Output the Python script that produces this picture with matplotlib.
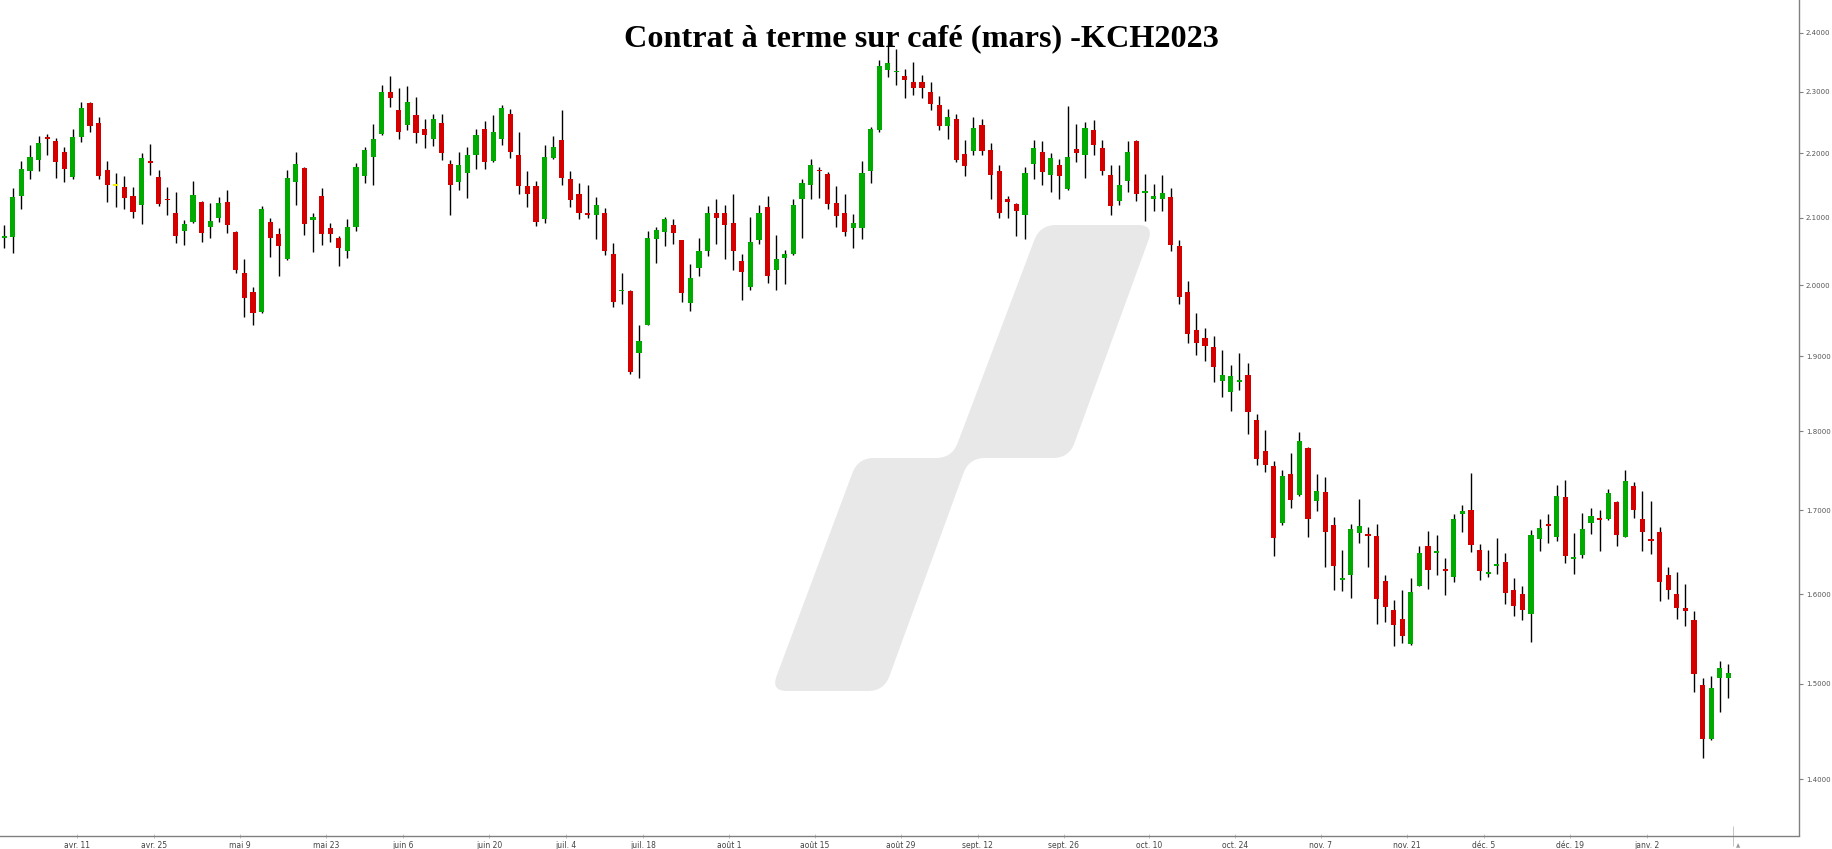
import numpy as np
import matplotlib
matplotlib.use("Agg")
import matplotlib.pyplot as plt
from matplotlib.path import Path
from matplotlib.patches import PathPatch
from matplotlib.ticker import FixedLocator, FormatStrFormatter, NullLocator

# daily OHLC, KCH2023 (one value per trading session, oldest first)
opens = [
    2.070, 2.071, 2.134, 2.173, 2.189, 2.226, 2.220, 2.202, 2.163, 2.226,
    2.281, 2.249, 2.174, 2.150, 2.148, 2.134, 2.120, 2.187, 2.163, 2.129,
    2.108, 2.080, 2.094, 2.124, 2.086, 2.099, 2.124, 2.079, 2.018, 1.991,
    1.962, 2.094, 2.076, 2.038, 2.155, 2.177, 2.096, 2.134, 2.085, 2.069,
    2.050, 2.086, 2.164, 2.195, 2.231, 2.300, 2.270, 2.246, 2.262, 2.239,
    2.223, 2.249, 2.183, 2.155, 2.169, 2.198, 2.239, 2.188, 2.223, 2.264,
    2.197, 2.149, 2.149, 2.098, 2.192, 2.221, 2.159, 2.137, 2.107, 2.105,
    2.108, 2.046, 1.992, 1.992, 1.904, 1.944, 2.068, 2.078, 2.089, 2.066,
    1.975, 2.025, 2.050, 2.108, 2.108, 2.092, 2.036, 1.998, 2.066, 2.117,
    2.023, 2.040, 2.046, 2.129, 2.151, 2.174, 2.167, 2.123, 2.108, 2.084,
    2.084, 2.173, 2.237, 2.337, 2.333, 2.326, 2.316, 2.317, 2.300, 2.279,
    2.244, 2.255, 2.199, 2.204, 2.245, 2.205, 2.172, 2.129, 2.121, 2.105,
    2.183, 2.203, 2.166, 2.182, 2.144, 2.207, 2.197, 2.237, 2.209, 2.166,
    2.125, 2.156, 2.220, 2.139, 2.129, 2.129, 2.132, 2.057, 1.991, 1.937,
    1.926, 1.913, 1.866, 1.852, 1.866, 1.875, 1.814, 1.775, 1.755, 1.684,
    1.745, 1.719, 1.778, 1.711, 1.723, 1.682, 1.617, 1.622, 1.672, 1.670,
    1.669, 1.615, 1.582, 1.572, 1.544, 1.610, 1.657, 1.649, 1.629, 1.620,
    1.695, 1.700, 1.652, 1.624, 1.634, 1.638, 1.605, 1.600, 1.577, 1.665,
    1.683, 1.667, 1.717, 1.641, 1.646, 1.685, 1.690, 1.690, 1.710, 1.668,
    1.730, 1.690, 1.664, 1.673, 1.623, 1.600, 1.583, 1.570, 1.498, 1.441,
    1.506, 1.506,
]
highs = [
    2.089, 2.145, 2.188, 2.213, 2.228, 2.231, 2.224, 2.211, 2.239, 2.284,
    2.284, 2.258, 2.188, 2.169, 2.165, 2.148, 2.200, 2.215, 2.174, 2.148,
    2.139, 2.097, 2.157, 2.126, 2.123, 2.132, 2.143, 2.080, 2.038, 1.998,
    2.118, 2.099, 2.085, 2.174, 2.203, 2.178, 2.108, 2.146, 2.092, 2.073,
    2.098, 2.185, 2.211, 2.247, 2.312, 2.326, 2.306, 2.310, 2.292, 2.255,
    2.264, 2.263, 2.190, 2.203, 2.210, 2.239, 2.252, 2.262, 2.279, 2.271,
    2.234, 2.172, 2.157, 2.213, 2.228, 2.270, 2.172, 2.154, 2.150, 2.132,
    2.115, 2.062, 2.018, 1.993, 1.944, 2.080, 2.086, 2.102, 2.098, 2.067,
    2.031, 2.069, 2.118, 2.129, 2.119, 2.137, 2.046, 2.101, 2.119, 2.134,
    2.074, 2.052, 2.129, 2.159, 2.191, 2.179, 2.171, 2.149, 2.136, 2.106,
    2.188, 2.243, 2.353, 2.382, 2.373, 2.338, 2.350, 2.329, 2.317, 2.293,
    2.271, 2.264, 2.221, 2.259, 2.256, 2.217, 2.182, 2.134, 2.122, 2.179,
    2.221, 2.220, 2.200, 2.191, 2.276, 2.247, 2.250, 2.253, 2.221, 2.182,
    2.182, 2.220, 2.222, 2.168, 2.152, 2.166, 2.146, 2.066, 2.006, 1.960,
    1.940, 1.928, 1.909, 1.888, 1.904, 1.891, 1.822, 1.801, 1.762, 1.750,
    1.772, 1.799, 1.779, 1.745, 1.742, 1.692, 1.652, 1.683, 1.714, 1.680,
    1.683, 1.623, 1.593, 1.605, 1.619, 1.657, 1.675, 1.670, 1.643, 1.695,
    1.706, 1.746, 1.659, 1.652, 1.666, 1.649, 1.619, 1.609, 1.676, 1.690,
    1.695, 1.732, 1.738, 1.672, 1.697, 1.703, 1.701, 1.727, 1.711, 1.750,
    1.735, 1.724, 1.712, 1.680, 1.632, 1.626, 1.612, 1.581, 1.506, 1.508,
    1.525, 1.521,
]
lows = [
    2.055, 2.047, 2.114, 2.160, 2.173, 2.198, 2.161, 2.155, 2.160, 2.218,
    2.235, 2.160, 2.124, 2.116, 2.114, 2.100, 2.090, 2.166, 2.118, 2.105,
    2.062, 2.059, 2.092, 2.063, 2.070, 2.094, 2.077, 2.018, 1.955, 1.944,
    1.960, 2.042, 2.014, 2.037, 2.119, 2.074, 2.049, 2.059, 2.063, 2.028,
    2.040, 2.080, 2.154, 2.151, 2.230, 2.275, 2.223, 2.237, 2.217, 2.208,
    2.212, 2.189, 2.105, 2.142, 2.131, 2.175, 2.176, 2.186, 2.214, 2.192,
    2.136, 2.116, 2.087, 2.092, 2.191, 2.150, 2.116, 2.098, 2.100, 2.068,
    2.044, 1.969, 1.973, 1.876, 1.871, 1.943, 2.032, 2.058, 2.061, 1.976,
    1.963, 2.014, 2.043, 2.061, 2.038, 2.022, 1.979, 1.994, 2.060, 2.004,
    1.994, 2.002, 2.044, 2.070, 2.129, 2.131, 2.114, 2.086, 2.072, 2.054,
    2.068, 2.153, 2.235, 2.325, 2.311, 2.290, 2.295, 2.290, 2.270, 2.238,
    2.223, 2.186, 2.164, 2.197, 2.197, 2.129, 2.099, 2.100, 2.072, 2.068,
    2.160, 2.151, 2.140, 2.129, 2.142, 2.186, 2.161, 2.198, 2.166, 2.105,
    2.120, 2.140, 2.125, 2.095, 2.111, 2.110, 2.051, 1.973, 1.918, 1.902,
    1.894, 1.865, 1.845, 1.827, 1.854, 1.797, 1.756, 1.748, 1.645, 1.682,
    1.703, 1.718, 1.667, 1.699, 1.632, 1.605, 1.604, 1.596, 1.660, 1.632,
    1.566, 1.568, 1.541, 1.545, 1.542, 1.609, 1.606, 1.623, 1.599, 1.614,
    1.674, 1.650, 1.616, 1.620, 1.624, 1.589, 1.575, 1.571, 1.546, 1.651,
    1.660, 1.663, 1.637, 1.624, 1.642, 1.671, 1.651, 1.688, 1.657, 1.667,
    1.691, 1.651, 1.647, 1.592, 1.595, 1.572, 1.564, 1.491, 1.421, 1.440,
    1.470, 1.485,
]
closes = [
    2.073, 2.132, 2.176, 2.194, 2.217, 2.224, 2.187, 2.175, 2.226, 2.273,
    2.244, 2.165, 2.151, 2.150, 2.131, 2.109, 2.192, 2.185, 2.121, 2.127,
    2.072, 2.090, 2.135, 2.077, 2.095, 2.123, 2.089, 2.023, 1.982, 1.960,
    2.113, 2.070, 2.058, 2.161, 2.183, 2.091, 2.101, 2.075, 2.075, 2.054,
    2.086, 2.179, 2.205, 2.223, 2.300, 2.290, 2.235, 2.283, 2.232, 2.229,
    2.255, 2.201, 2.150, 2.182, 2.197, 2.230, 2.187, 2.235, 2.273, 2.203,
    2.149, 2.136, 2.094, 2.194, 2.211, 2.161, 2.127, 2.108, 2.105, 2.119,
    2.051, 1.976, 1.993, 1.878, 1.921, 2.070, 2.082, 2.098, 2.077, 1.989,
    2.011, 2.050, 2.108, 2.100, 2.089, 2.051, 2.019, 2.064, 2.108, 2.014,
    2.038, 2.046, 2.119, 2.154, 2.182, 2.172, 2.121, 2.103, 2.078, 2.092,
    2.169, 2.239, 2.343, 2.349, 2.335, 2.320, 2.306, 2.307, 2.280, 2.244,
    2.259, 2.189, 2.180, 2.241, 2.204, 2.166, 2.108, 2.124, 2.111, 2.169,
    2.209, 2.171, 2.192, 2.164, 2.194, 2.201, 2.241, 2.214, 2.173, 2.118,
    2.150, 2.203, 2.137, 2.140, 2.134, 2.138, 2.059, 1.983, 1.931, 1.919,
    1.914, 1.886, 1.874, 1.873, 1.868, 1.825, 1.764, 1.757, 1.666, 1.743,
    1.713, 1.787, 1.689, 1.724, 1.674, 1.633, 1.619, 1.677, 1.681, 1.669,
    1.595, 1.585, 1.565, 1.552, 1.603, 1.648, 1.628, 1.650, 1.628, 1.689,
    1.699, 1.658, 1.627, 1.626, 1.635, 1.602, 1.587, 1.582, 1.670, 1.679,
    1.681, 1.718, 1.645, 1.643, 1.677, 1.693, 1.689, 1.721, 1.670, 1.736,
    1.701, 1.674, 1.663, 1.614, 1.605, 1.584, 1.582, 1.510, 1.441, 1.495,
    1.517, 1.511,
]

# x tick labels sit between sessions (session index units)
date_ticks = [8.5, 17.5, 27.5, 37.5, 46.5, 56.5, 65.5, 74.5, 84.5, 94.5,
              104.5, 113.5, 123.5, 133.5, 143.5, 153.5, 163.5, 172.5, 182.5, 191.5]
date_labels = ["avr. 11", "avr. 25", "mai 9", "mai 23", "juin 6", "juin 20",
               "juil. 4", "juil. 18", "août 1", "août 15", "août 29", "sept. 12",
               "sept. 26", "oct. 10", "oct. 24", "nov. 7", "nov. 21", "déc. 5",
               "déc. 19", "janv. 2"]
price_ticks = [1.4, 1.5, 1.6, 1.7, 1.8, 1.9, 2.0, 2.1, 2.2, 2.3, 2.4]

title = "Contrat à terme sur café (mars) -KCH2023"

W, H = 1832, 849


def rounded_path(pts, r):
    # polygon in pixel coords with rounded corners -> figure fraction path
    verts, codes = [], []
    n = len(pts)
    for i in range(n):
        p0 = np.array(pts[i - 1], float)
        p1 = np.array(pts[i], float)
        p2 = np.array(pts[(i + 1) % n], float)
        d0 = (p0 - p1) / np.linalg.norm(p0 - p1)
        d2 = (p2 - p1) / np.linalg.norm(p2 - p1)
        verts += [p1 + d0 * r, p1, p1 + d2 * r]
        codes += [Path.MOVETO if i == 0 else Path.LINETO, Path.CURVE3, Path.CURVE3]
    verts.append(verts[0])
    codes.append(Path.CLOSEPOLY)
    verts = [(v[0] / W, 1 - v[1] / H) for v in verts]
    return Path(verts, codes)


def main():
    o = np.array(opens)
    h = np.array(highs)
    l = np.array(lows)
    c = np.array(closes)
    x = np.arange(len(o))

    colors = np.where(c > o, "#00aa00", np.where(c < o, "#d40000", "#f2f200"))
    body = np.maximum(np.abs(c - o), 0.0025)
    mid = (o + c) / 2

    fig = plt.figure(figsize=(W / 100, H / 100), dpi=100)
    ax = fig.add_axes([0, 1 - 835.5 / H, 1799 / W, 835.5 / H])

    # watermark logo
    logo = [(1040, 225), (1154, 225), (1069, 458), (969, 458),
            (884, 691), (771, 691), (858, 458), (952, 458)]
    ax.add_patch(PathPatch(rounded_path(logo, 16), transform=fig.transFigure,
                           facecolor="#e8e8e8", edgecolor="none", zorder=1))

    ax.vlines(x, l, h, color="black", linewidth=1.0, zorder=2)
    ax.bar(x, body, bottom=mid - body / 2, width=0.6, color=colors,
           linewidth=0, zorder=3)

    ax.set_yscale("log")
    ax.set_ylim(1.3441, 2.4579)
    ax.set_xlim(-0.5, 209.25)

    ax.yaxis.tick_right()
    ax.yaxis.set_major_locator(FixedLocator(price_ticks))
    ax.yaxis.set_major_formatter(FormatStrFormatter("%.4f"))
    ax.yaxis.set_minor_locator(NullLocator())
    ax.tick_params(axis="y", length=3, width=0.8, color="#808080",
                   labelsize=5, labelcolor="#555555", pad=2)

    ax.set_xticks(date_ticks + [201.5], date_labels + [""])
    ax.tick_params(axis="x", length=3, width=0.6, direction="inout",
                   color="#bbbbbb", labelsize=5.5, labelcolor="#444444", pad=2.5)
    last = ax.xaxis.get_major_ticks()[-1]
    last.tick1line.set_markersize(14)
    last.tick1line.set_color("#666666")

    for side in ["top", "left"]:
        ax.spines[side].set_visible(False)
    for side in ["bottom", "right"]:
        ax.spines[side].set_color("#808080")
        ax.spines[side].set_linewidth(1.0)

    fig.text(1738 / W, 1 - 848 / H, "▲", fontsize=4, color="#999999",
             ha="center", va="bottom")
    fig.text(921.5 / W, 1 - 46 / H, title, ha="center", va="baseline",
             fontsize=23.2, fontweight="bold", family="Liberation Serif")

    fig.savefig("out.png", dpi=100, facecolor="white")


main()
